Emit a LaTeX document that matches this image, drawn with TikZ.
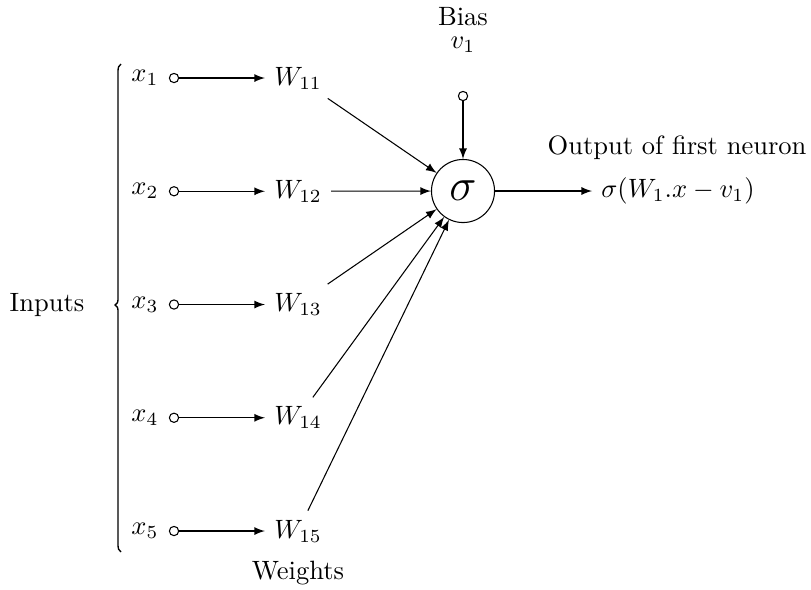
\documentclass[tikz,border=0pt]{standalone}
\usetikzlibrary{arrows}
\begin{document}
\begin{tikzpicture}[x=0.3774pt,y=-0.3774pt,>=latex,
  dot/.style={draw,circle,inner sep=0pt,minimum size=3.5pt},
  neuron/.style={draw,circle,inner sep=0pt,minimum size=23.8pt,font=\LARGE},
  conn/.style={->}]
\useasboundingbox (0,0) rectangle (811,589);
\node (inputs) at (47,305) {Inputs};
\foreach \i/\y in {1/78,2/191.25,3/304.5,4/417.75,5/531} {
  \node (x\i) at (145,\y) {$x_\i$};
  \node[dot] (c\i) at (174,\y) {};
  \node (w\i) at (298,\y) {$W_{1\i}$};
  \draw[conn] (c\i) -- (w\i);
}
\node[neuron] (s) at (463,191) {$\sigma$};
\foreach \i in {1,...,5} \draw[conn] (w\i) -- (s);
\node[dot] (b) at (463,96) {};
\node (bias) at (463,17) {Bias};
\node (v) at (463,45) {$v_1$};
\draw[conn] (b) -- (s);
\node (out) at (678,191) {$\sigma(W_1.x-v_1)$};
\draw[conn] (s) -- (out);
\node (outl) at (677,148) {Output of first neuron};
\node (weights) at (298,573) {Weights};
\draw[line width=0.5pt] (121,64) .. controls (118.5,65) and (118,68) .. (118,72) -- (118,299)
  .. controls (118,302.5) and (117,304) .. (115,305)
  .. controls (117,306) and (118,307.5) .. (118,311) -- (118,544)
  .. controls (118,548) and (118.5,551) .. (121,552);
\end{tikzpicture}
\end{document}
